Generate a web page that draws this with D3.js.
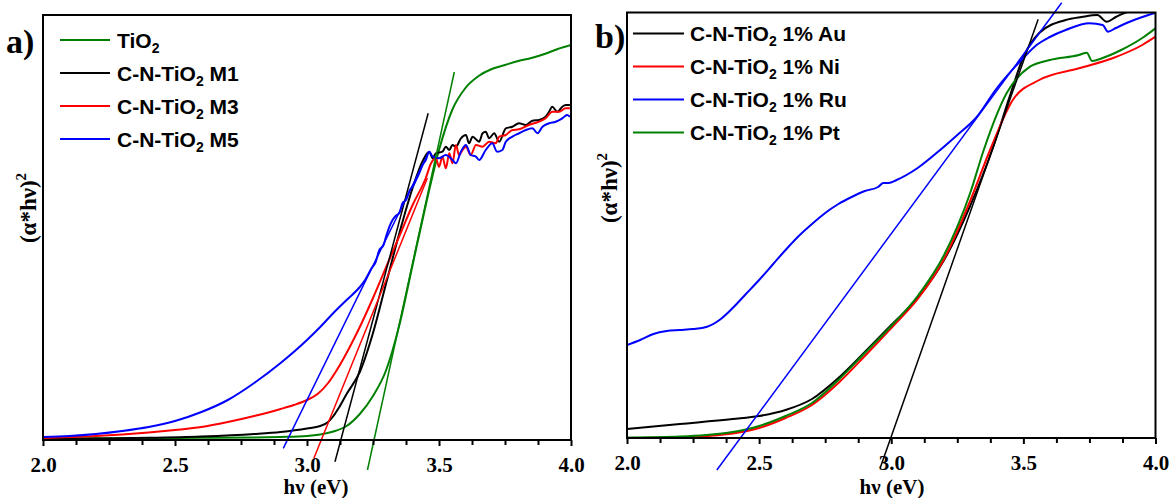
<!DOCTYPE html>
<html><head><meta charset="utf-8">
<script src="https://cdn.jsdelivr.net/npm/d3@7"></script>
<style>body{margin:0;background:#fff} svg{display:block}</style>
</head><body>
<svg id="c" width="1172" height="498"></svg>
<script>
// ---------- shared ----------
const xMajorTicks = [2.0, 2.5, 3.0, 3.5, 4.0];
const xMinorTicks = [2.125, 2.25, 2.375, 2.625, 2.75, 2.875, 3.125, 3.25, 3.375, 3.625, 3.75, 3.875];
const xTitle = "hν (eV)";

// ---------- panel a (arbitrary units) ----------
const aNames = ["TiO2", "C-N-TiO2 M1", "C-N-TiO2 M3", "C-N-TiO2 M5"];
const aColors = ["#008000", "#000000", "#ff0000", "#0000ff"];

const tio2E = [2.0, 2.2, 2.4, 2.6, 2.8, 2.9, 3.0, 3.05, 3.1, 3.15, 3.2, 3.25, 3.3, 3.35, 3.4, 3.45, 3.5, 3.55, 3.6, 3.65, 3.7, 3.75, 3.8, 3.85, 3.9, 3.95, 4.0];
const tio2Y = [1.5, 1.7, 2, 2.2, 2.5, 3, 4, 5.5, 8.5, 14, 26, 44, 70, 115, 175, 235, 290, 330, 352, 364, 371, 375, 379, 382, 386, 391, 395];

const m1E = [2.0, 2.2, 2.4, 2.6, 2.8, 2.9, 3.0, 3.05, 3.08, 3.1, 3.12, 3.15, 3.2, 3.25, 3.3, 3.35, 3.4, 3.44,
  3.463, 3.476, 3.488, 3.513, 3.526, 3.539, 3.551, 3.564, 3.583, 3.602, 3.614, 3.627, 3.652, 3.665, 3.677, 3.69, 3.709, 3.728, 3.753, 3.778, 3.803, 3.829, 3.854, 3.879, 3.904, 3.917, 3.929, 3.948, 3.967, 3.98, 3.996];
const m1Y = [1, 1.5, 2.2, 3.5, 6, 8, 11.5, 14, 18, 24, 32, 46, 68, 107, 157, 207, 252, 280,
  288.3, 281.7, 286.7, 288.3, 293.3, 290, 295, 293.3, 301.7, 305, 296.7, 303.3, 298.3, 306.7, 308.3, 301.7, 306.7, 298.3, 311.7, 313.3, 316.7, 315, 319.3, 320, 323.3, 328.3, 333.3, 328.3, 333.3, 335, 335];

const m3E = [2.0, 2.1, 2.2, 2.3, 2.4, 2.5, 2.6, 2.7, 2.8, 2.9, 2.95, 3.0, 3.04, 3.08, 3.12, 3.16, 3.2, 3.25, 3.3, 3.35, 3.4, 3.45,
  3.47, 3.488, 3.5, 3.513, 3.526, 3.539, 3.551, 3.564, 3.576, 3.589, 3.602, 3.62, 3.64, 3.665, 3.69, 3.715, 3.728, 3.753, 3.778, 3.803, 3.84, 3.879, 3.904, 3.929, 3.955, 3.98, 3.996];
const m3Y = [2, 3, 4, 5.5, 7.5, 10, 13, 18, 24, 31, 35, 40, 46, 57, 73, 92, 113, 142, 173, 204, 235, 262,
  276.7, 281.7, 273.3, 283.3, 271.7, 286.7, 276.7, 295, 285, 290, 293.3, 285, 295, 293.3, 298.3, 296.7, 303.3, 305, 310, 310.7, 315, 318.3, 321.7, 328.3, 328.3, 331.7, 331.7];

const m5E = [2.0, 2.1, 2.2, 2.3, 2.4, 2.5, 2.6, 2.7, 2.8, 2.9, 3.0, 3.05, 3.1, 3.15, 3.2,
  3.22, 3.245, 3.26, 3.274, 3.29, 3.30, 3.324, 3.336, 3.35, 3.362, 3.375, 3.39, 3.40, 3.413, 3.425, 3.438, 3.45, 3.463, 3.476, 3.50, 3.526, 3.551, 3.564, 3.583, 3.602, 3.62, 3.64, 3.652, 3.677, 3.702, 3.72, 3.74, 3.753, 3.778, 3.803, 3.829, 3.854, 3.873, 3.892, 3.917, 3.942, 3.967, 3.985, 3.996];
const m5Y = [3, 4, 6, 9, 13, 19, 28, 40, 57, 77, 100, 113, 127, 140, 153,
  160, 172, 178, 190, 195, 204, 220, 224, 227, 237, 240, 250, 253.3, 260, 266.7, 275, 280, 288.3, 283.3, 281.7, 285, 280, 276.7, 288.3, 295, 285, 283.3, 280, 290, 296.7, 288.3, 290, 298.3, 303.3, 306.7, 310, 311.7, 306.7, 313.3, 316.7, 318.3, 321.7, 325, 323.3];

// Tauc tangent lines (two end points each): [E1, Y1, E2, Y2]
const aFitTio2 = [3.229, -30, 3.558, 368];
const aFitM1 = [3.106, -21.7, 3.459, 326.7];
const aFitM3 = [3.026, -18.3, 3.456, 262];
const aFitM5 = [2.910, -8.3, 3.456, 285];

// ---------- panel b ----------
const bNames = ["C-N-TiO2 1% Au", "C-N-TiO2 1% Ni", "C-N-TiO2 1% Ru", "C-N-TiO2 1% Pt"];
const bColors = ["#000000", "#ff0000", "#0000ff", "#008000"];

const auE = [2.0, 2.2, 2.4, 2.5, 2.6, 2.7, 2.8, 2.9, 3.0, 3.1, 3.2, 3.3, 3.386, 3.45, 3.5, 3.56, 3.66, 3.72, 3.78, 3.815, 3.85, 3.88, 3.95, 4.0];
const auY = [9, 14, 19, 22, 28, 39, 60, 86, 113, 140, 178, 233, 291, 343, 381, 405, 418, 421, 423, 416.3, 421, 424.7, 429, 430];

const niE = [2.0, 2.2, 2.3, 2.4, 2.5, 2.6, 2.7, 2.8, 2.9, 3.0, 3.1, 3.2, 3.3, 3.374, 3.46, 3.56, 3.71, 3.84, 3.95, 4.0];
const niY = [0, 0.5, 2, 4.5, 10, 20, 33, 55, 82, 110, 139, 179, 238, 288, 338, 358, 369.7, 380, 393, 401.3];

const ruE = [2.0, 2.05, 2.1, 2.15, 2.2, 2.25, 2.3, 2.35, 2.4, 2.45, 2.5, 2.55, 2.6, 2.65, 2.7, 2.75, 2.8, 2.85, 2.9, 2.95, 2.97, 2.99, 3.02, 3.1, 3.185, 3.25, 3.32, 3.4, 3.5, 3.55, 3.6, 3.66, 3.75, 3.8, 3.82, 3.85, 3.9, 3.95, 4.0];
const ruY = [93, 98, 104, 107, 108, 109, 111, 118, 130, 144, 158, 173, 188, 202, 214, 225, 234, 241, 247, 251, 255, 255, 258, 270, 288, 303, 320, 350, 380, 393, 401, 408, 414.7, 413, 406.3, 410, 416, 421, 425.3];

const ptE = [2.0, 2.2, 2.3, 2.4, 2.5, 2.6, 2.7, 2.8, 2.9, 3.0, 3.1, 3.2, 3.3, 3.35, 3.437, 3.525, 3.6, 3.71, 3.74, 3.76, 3.8, 3.87, 3.95, 4.0];
const ptY = [0.5, 1.5, 3, 6, 12, 22, 35, 58, 85, 112, 142, 183, 246, 288, 345, 371.3, 378, 383, 385.3, 377, 380, 388, 400, 409.7];

const bFitAu = [2.958, -30, 3.556, 418.7];
const bFitRu = [2.340, -32, 3.645, 435.3];

// ---------- drawing ----------
const svg = d3.select("#c");
const serif = "'Liberation Serif','Times New Roman',serif";
const sans = "'Liberation Sans',Arial,sans-serif";

function panel(cfg) {
  const x = d3.scaleLinear().domain([2.0, 4.0]).range([cfg.left, cfg.right]);
  const y = d3.scaleLinear().domain([0, cfg.bottom - cfg.top]).range([cfg.bottom, cfg.top]);
  const g = svg.append("g");
  const clipId = "clip" + cfg.id;
  svg.append("clipPath").attr("id", clipId).append("rect")
    .attr("x", cfg.left).attr("y", cfg.top)
    .attr("width", cfg.right - cfg.left).attr("height", cfg.bottom - cfg.top);

  const curve = d3.line().x(d => x(d[0])).y(d => y(d[1])).curve(d3.curveMonotoneX);
  const line = d3.line().x(d => x(d[0])).y(d => y(d[1]));

  cfg.series.forEach(s => {
    g.append("path").datum(d3.zip(s.e, s.v))
      .attr("clip-path", `url(#${clipId})`)
      .attr("d", curve).attr("fill", "none")
      .attr("stroke", s.color).attr("stroke-width", 2).attr("stroke-linejoin", "round");
  });
  cfg.fits.forEach(f => {
    g.append("path").datum([[f.p[0], f.p[1]], [f.p[2], f.p[3]]])
      .attr("d", line).attr("fill", "none")
      .attr("stroke", f.color).attr("stroke-width", 1.5);
  });

  g.append("rect").attr("x", cfg.left).attr("y", cfg.top)
    .attr("width", cfg.right - cfg.left).attr("height", cfg.bottom - cfg.top)
    .attr("fill", "none").attr("stroke", "#000").attr("stroke-width", 2);

  const axMinor = d3.axisBottom(x).tickValues(xMinorTicks).tickSize(5).tickFormat("");
  g.append("g").attr("transform", `translate(0,${cfg.bottom})`).call(axMinor)
    .call(a => a.select(".domain").remove())
    .selectAll("line").attr("stroke", "#000").attr("stroke-width", 2);
  const axMajor = d3.axisBottom(x).tickValues(xMajorTicks).tickSize(6).tickPadding(11).tickFormat(d3.format(".1f"));
  const ma = g.append("g").attr("transform", `translate(0,${cfg.bottom})`).call(axMajor);
  ma.select(".domain").remove();
  ma.selectAll("line").attr("stroke", "#000").attr("stroke-width", 2);
  ma.selectAll("text").attr("font-family", serif).attr("font-weight", "bold")
    .attr("font-size", 21).attr("fill", "#000");

  g.append("text").attr("x", cfg.xTitleX).attr("y", 494).attr("text-anchor", "middle")
    .attr("font-family", serif).attr("font-weight", "bold").attr("font-size", 21).text(xTitle);

  const yt = g.append("text").attr("transform", `translate(${cfg.yTitleX},${cfg.yTitleY}) rotate(-90)`)
    .attr("text-anchor", "middle").attr("font-family", serif).attr("font-weight", "bold").attr("font-size", 23);
  yt.append("tspan").text("(α*hν)");
  yt.append("tspan").attr("dy", -10).attr("font-size", 15).text("2");

  g.append("text").attr("x", cfg.letterX).attr("y", cfg.letterY)
    .attr("font-family", serif).attr("font-weight", "bold").attr("font-size", 34).text(cfg.letter);

  cfg.series.forEach((s, i) => {
    const ly = cfg.legY + i * cfg.legDy;
    g.append("line").attr("x1", cfg.legX1).attr("x2", cfg.legX2).attr("y1", ly).attr("y2", ly)
      .attr("stroke", s.color).attr("stroke-width", 2);
    const t = g.append("text").attr("x", cfg.legTX).attr("y", ly + 7.5)
      .attr("font-family", sans).attr("font-weight", "bold").attr("font-size", 21);
    const parts = s.name.split("TiO2");
    t.append("tspan").text(parts[0] + "TiO");
    t.append("tspan").attr("dy", 5).attr("font-size", 14).text("2");
    if (parts[1]) t.append("tspan").attr("dy", -5).text(parts[1]);
  });
}

panel({
  id: "a", left: 43, right: 571, top: 15, bottom: 440,
  letter: "a)", letterX: 6, letterY: 53,
  xTitleX: 316, yTitleX: 36, yTitleY: 208,
  legX1: 60, legX2: 110, legTX: 117, legY: 40, legDy: 33,
  series: [
    { name: aNames[0], color: aColors[0], e: tio2E, v: tio2Y },
    { name: aNames[1], color: aColors[1], e: m1E, v: m1Y },
    { name: aNames[2], color: aColors[2], e: m3E, v: m3Y },
    { name: aNames[3], color: aColors[3], e: m5E, v: m5Y }
  ],
  fits: [
    { color: aColors[0], p: aFitTio2 },
    { color: aColors[1], p: aFitM1 },
    { color: aColors[2], p: aFitM3 },
    { color: aColors[3], p: aFitM5 }
  ]
});

panel({
  id: "b", left: 627, right: 1155.5, top: 12.5, bottom: 438,
  letter: "b)", letterX: 595, letterY: 48,
  xTitleX: 892, yTitleX: 617, yTitleY: 188,
  legX1: 633, legX2: 684, legTX: 690, legY: 33.5, legDy: 33,
  series: [
    { name: bNames[0], color: bColors[0], e: auE, v: auY },
    { name: bNames[1], color: bColors[1], e: niE, v: niY },
    { name: bNames[2], color: bColors[2], e: ruE, v: ruY },
    { name: bNames[3], color: bColors[3], e: ptE, v: ptY }
  ],
  fits: [
    { color: bColors[0], p: bFitAu },
    { color: bColors[2], p: bFitRu }
  ]
});
</script></body></html>
